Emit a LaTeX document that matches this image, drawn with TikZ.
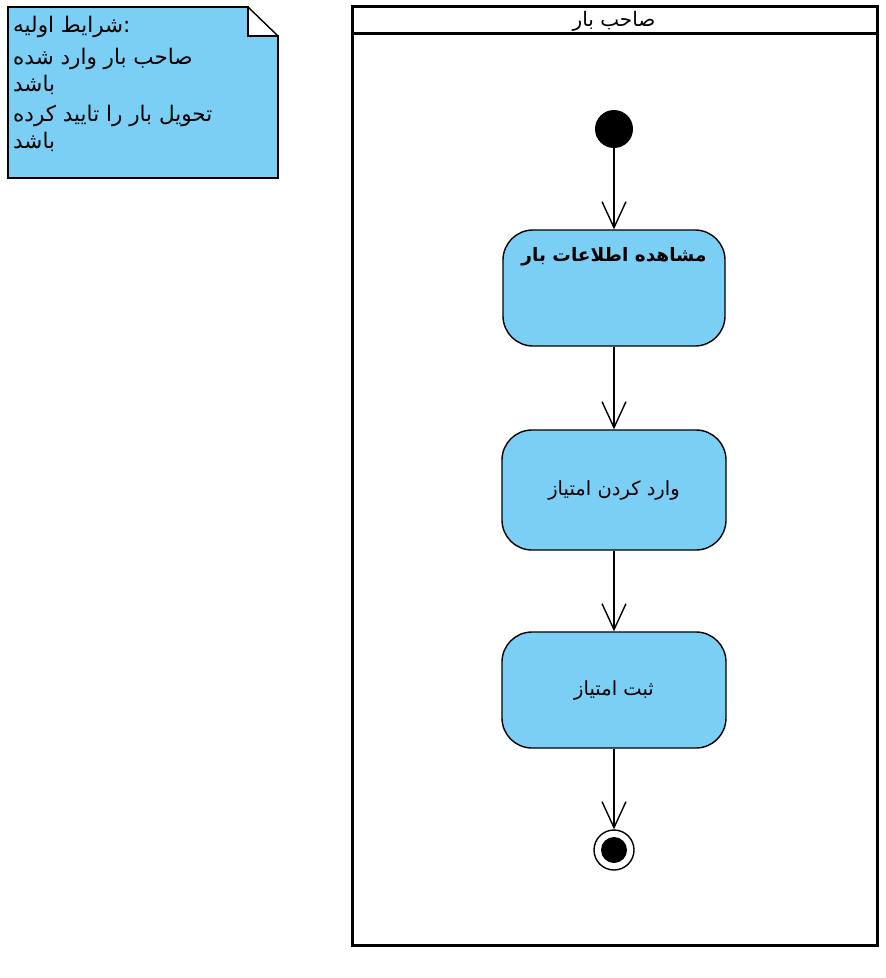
\documentclass[tikz,border=0pt]{standalone}
\usepackage{fontspec}
\usetikzlibrary{arrows.meta}
\TeXXeTstate=1
\newfontfamily\fafont[Script=Arabic]{DejaVu Sans}
\newcommand{\rtl}[1]{\beginR #1\endR}
\definecolor{umlblue}{HTML}{7BCFF4}

\begin{document}
\begin{tikzpicture}[x=1pt,y=-1pt,
  every node/.style={font=\fafont\fontsize{19.5}{24}\selectfont, inner sep=0pt},
  notetext/.style={anchor=base west, font=\fafont\fontsize{21.5}{24}\selectfont},
  action/.style={draw, line width=1.4pt, fill=umlblue, rounded corners=30pt,
    minimum width=222pt, minimum height=116pt},
  flow/.style={line width=1.4pt,
    -{Straight Barb[length=26pt,width=24pt,line width=1.4pt]}},
  lane/.style={line width=3pt}]
\useasboundingbox (0,0) rectangle (886,978);

% precondition note with folded corner
\draw[line width=1.4pt, fill=umlblue]
  (8,7) -- (248,7) -- (248,36) -- (278,36) -- (278,178) -- (8,178) -- cycle;
\draw[line width=1.4pt] (248,7) -- (278,36);
\node[notetext] (n1) at (13,32) {\rtl{شرایط اولیه}:};
\node[notetext] (n2) at (13,64) {\rtl{صاحب بار وارد شده}};
\node[notetext] (n3) at (13,91) {\rtl{باشد}};
\node[notetext] (n4) at (13,121) {\rtl{تحویل بار را تایید کرده}};
\node[notetext] (n5) at (13,148) {\rtl{باشد}};

% swimlane
\draw[lane] (352,6) rectangle (877,945);
\draw[lane] (352,33) -- (877,33);
\node[font=\fafont\fontsize{20}{24}\selectfont] (lanetitle) at (614,21) {\rtl{صاحب بار}};

% activity nodes
\node[circle, fill=black, minimum size=38pt] (start) at (614,129) {};
\node[action] (a1) at (614,288) {};
\node[font=\fafont\bfseries\fontsize{18.5}{22}\selectfont] (a1t) at (614,257) {\rtl{مشاهده اطلاعات بار}};
\node[action, minimum width=224pt, minimum height=120pt] (a2) at (614,490) {\rtl{وارد کردن امتیاز}};
\node[action, minimum width=224pt] (a3) at (614,690) {\rtl{ثبت امتیاز}};
\node[circle, draw, line width=1.4pt, fill=white, minimum size=40pt] (end) at (614,850) {};
\node[circle, fill=black, minimum size=26pt] (endin) at (614,850) {};

% control flow
\draw[flow] (start) -- (a1);
\draw[flow] (a1) -- (a2);
\draw[flow] (a2) -- (a3);
\draw[flow] (a3) -- (end);
\end{tikzpicture}
\end{document}
